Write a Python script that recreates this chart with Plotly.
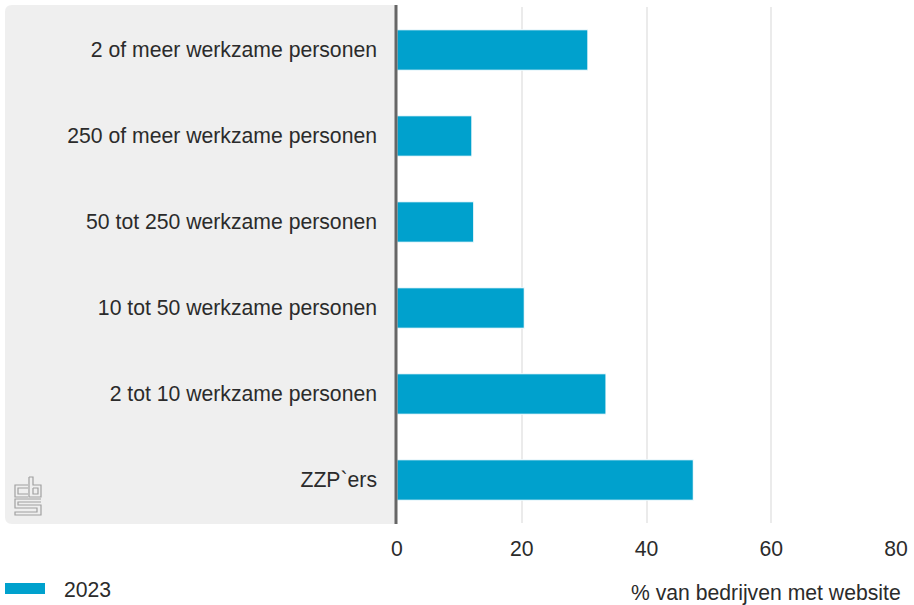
import plotly.graph_objects as go

categories = [
    "2 of meer werkzame personen",
    "250 of meer werkzame personen",
    "50 tot 250 werkzame personen",
    "10 tot 50 werkzame personen",
    "2 tot 10 werkzame personen",
    "ZZP`ers",
]
values_2023 = [30.6, 12.0, 12.3, 20.4, 33.5, 47.5]
series_name = "2023"
x_ticks = [0, 20, 40, 60, 80]
x_title = "% van bedrijven met website"

W, H = 914, 605
L, R, T, B = 397, 18, 7, 82
PW = W - L - R
PH = H - T - B


def px(x):
    return (x - L) / PW


def py(y):
    return (H - B - y) / PH


FONT = "Liberation Sans, Arial, sans-serif"
FS = 21.2
BAR = "#00a1cd"
TXT = "#2b2b2b"

fig = go.Figure()
fig.add_trace(go.Bar(
    y=categories, x=values_2023, orientation="h", name=series_name,
    marker=dict(color=BAR, line=dict(color="white", width=1)),
    width=0.47, showlegend=False,
))

shapes = []
# gray panel with rounded corners
x0, x1, y0, y1, r = 5, 397, 5, 524, 7
path = (f"M {px(x0+r)},{py(y0)} L {px(x1)},{py(y0)} L {px(x1)},{py(y1)} "
        f"L {px(x0+r)},{py(y1)} Q {px(x0)},{py(y1)} {px(x0)},{py(y1-r)} "
        f"L {px(x0)},{py(y0+r)} Q {px(x0)},{py(y0)} {px(x0+r)},{py(y0)} Z")
shapes.append(dict(type="path", xref="paper", yref="paper", path=path,
                   fillcolor="#efefef", line=dict(width=0), layer="below"))
# axis line at zero
shapes.append(dict(type="line", xref="paper", yref="paper",
                   x0=px(396), x1=px(396), y0=py(5), y1=py(524),
                   line=dict(color="#666666", width=3), layer="above"))

# cbs logo (decorative)
def poly(pts):
    return "M " + " L ".join(f"{px(a)},{py(b)}" for a, b in pts)

logo_paths = [
    poly([(28, 485), (15, 485), (15, 497), (28, 497)]),
    poly([(28, 488), (18, 488), (18, 494), (28, 494)]),
    poly([(29, 477), (29, 497), (41, 497), (41, 485), (33, 485), (33, 477), (29, 477)]),
    poly([(33, 488), (38, 488), (38, 494), (33, 494), (33, 488)]),
    poly([(41, 499), (15, 499), (15, 508), (37, 508), (37, 512), (15, 512), (15, 515), (41, 515), (41, 505), (18, 505), (18, 502), (41, 502)]),
]
for p in logo_paths:
    shapes.append(dict(type="path", xref="paper", yref="paper", path=p,
                       line=dict(color="#a0a0a0", width=1.2)))

# legend swatch
shapes.append(dict(type="rect", xref="paper", yref="paper",
                   x0=px(5), x1=px(45), y0=py(594), y1=py(583),
                   fillcolor=BAR, line=dict(width=0)))

annotations = [
    dict(text=series_name, xref="paper", yref="paper", x=px(62), y=py(589),
         xanchor="left", yanchor="middle", showarrow=False,
         font=dict(size=FS, color=TXT, family=FONT)),
    dict(text=x_title, xref="paper", yref="paper", x=px(903), y=py(593),
         xanchor="right", yanchor="middle", showarrow=False,
         font=dict(size=FS, color=TXT, family=FONT)),
]

fig.update_layout(
    width=W, height=H,
    margin=dict(l=L, r=R, t=T, b=B),
    paper_bgcolor="white", plot_bgcolor="white",
    font=dict(family=FONT, size=FS, color=TXT),
    shapes=shapes, annotations=annotations,
    bargap=0.53,
)
fig.update_xaxes(range=[0, 80], tickvals=x_ticks, showgrid=True,
                 gridcolor="#ebebeb", gridwidth=2, zeroline=False,
                 showline=False, ticks="", ticklabelstandoff=11,
                 tickfont=dict(size=FS, color=TXT), fixedrange=True)
fig.update_yaxes(categoryorder="array", categoryarray=categories[::-1],
                 showgrid=False, zeroline=False, showline=False, ticks="",
                 ticklabelstandoff=19, tickfont=dict(size=FS, color=TXT),
                 range=[-0.5, len(categories) - 0.5], fixedrange=True)

fig.write_html("out.html", config={"displayModeBar": False},
               post_script="document.body.style.margin='0';document.body.style.overflow='hidden';")
